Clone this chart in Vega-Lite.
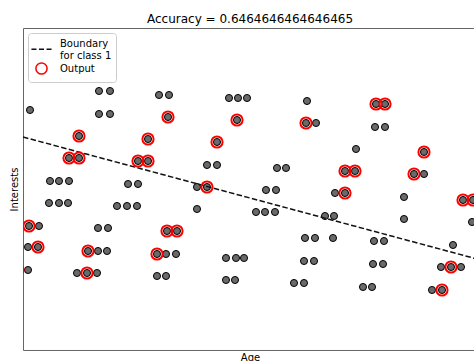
{
  "$schema": "https://vega.github.io/schema/vega-lite/v6.json",
  "width": 454,
  "height": 322,
  "autosize": {"type": "none"},
  "padding": {"left": 23, "top": 28, "right": 0, "bottom": 11},
  "background": "white",
  "title": {"text": "Accuracy = 0.6464646464646465", "font": "DejaVu Sans", "fontSize": 12, "fontWeight": "normal", "color": "black", "offset": 2, "anchor": "middle"},
  "config": {
    "view": {"stroke": "#666", "strokeWidth": 1},
    "font": "DejaVu Sans",
    "axis": {"grid": false, "labels": false, "ticks": false, "domain": false, "titleFont": "DejaVu Sans", "titleFontSize": 10, "titleFontWeight": "normal", "titleColor": "black"},
    "legend": {
      "orient": "top-left",
      "offset": 5,
      "padding": 4,
      "strokeColor": "#cccccc",
      "fillColor": "white",
      "cornerRadius": 3,
      "labelFont": "DejaVu Sans",
      "labelFontSize": 10,
      "labelColor": "black",
      "labelOffset": 12,
      "symbolOffset": 3,
      "symbolSize": 125,
      "rowPadding": -2
    }
  },
  "datasets": {
    "pts": [
      {"x":76,"y":259,"out":false},{"x":87,"y":259,"out":false},{"x":136,"y":255,"out":false},{"x":146,"y":255,"out":false},
      {"x":206,"y":252,"out":false},{"x":215,"y":252,"out":false},{"x":224,"y":252,"out":false},{"x":284,"y":249,"out":false},
      {"x":353,"y":246,"out":true},{"x":362,"y":246,"out":true},{"x":7,"y":240,"out":false},{"x":76,"y":236,"out":false},
      {"x":87,"y":236,"out":false},{"x":145,"y":233,"out":true},{"x":214,"y":230,"out":true},{"x":283,"y":227,"out":true},
      {"x":293,"y":227,"out":false},{"x":352,"y":223,"out":false},{"x":362,"y":223,"out":false},{"x":56,"y":214,"out":true},
      {"x":125,"y":211,"out":true},{"x":194,"y":208,"out":true},{"x":333,"y":201,"out":false},{"x":401,"y":198,"out":true},
      {"x":46,"y":192,"out":true},{"x":56,"y":192,"out":true},{"x":115,"y":189,"out":true},{"x":125,"y":189,"out":true},
      {"x":184,"y":185,"out":false},{"x":194,"y":185,"out":false},{"x":254,"y":182,"out":false},{"x":263,"y":182,"out":false},
      {"x":322,"y":179,"out":true},{"x":332,"y":179,"out":true},{"x":391,"y":176,"out":true},{"x":401,"y":176,"out":false},
      {"x":27,"y":169,"out":false},{"x":36,"y":169,"out":false},{"x":46,"y":169,"out":false},{"x":105,"y":166,"out":false},
      {"x":115,"y":166,"out":false},{"x":174,"y":163,"out":false},{"x":184,"y":163,"out":true},{"x":243,"y":160,"out":false},
      {"x":253,"y":160,"out":false},{"x":312,"y":157,"out":false},{"x":322,"y":157,"out":true},{"x":381,"y":153,"out":false},
      {"x":440,"y":150,"out":true},{"x":450,"y":150,"out":true},{"x":26,"y":147,"out":false},{"x":36,"y":147,"out":false},
      {"x":45,"y":147,"out":false},{"x":94,"y":144,"out":false},{"x":104,"y":144,"out":false},{"x":114,"y":144,"out":false},
      {"x":174,"y":141,"out":false},{"x":233,"y":138,"out":false},{"x":242,"y":138,"out":false},{"x":252,"y":138,"out":false},
      {"x":302,"y":134,"out":false},{"x":311,"y":134,"out":false},{"x":381,"y":131,"out":false},{"x":449,"y":128,"out":false},
      {"x":6,"y":124,"out":true},{"x":16,"y":124,"out":false},{"x":75,"y":122,"out":false},{"x":85,"y":122,"out":false},
      {"x":144,"y":119,"out":true},{"x":154,"y":119,"out":true},{"x":282,"y":112,"out":false},{"x":292,"y":112,"out":false},
      {"x":310,"y":112,"out":false},{"x":351,"y":109,"out":false},{"x":361,"y":109,"out":false},{"x":430,"y":105,"out":false},
      {"x":5,"y":103,"out":false},{"x":15,"y":103,"out":true},{"x":65,"y":99,"out":true},{"x":75,"y":99,"out":false},
      {"x":84,"y":99,"out":false},{"x":134,"y":96,"out":true},{"x":143,"y":96,"out":false},{"x":153,"y":96,"out":false},
      {"x":203,"y":92,"out":false},{"x":213,"y":92,"out":false},{"x":221,"y":92,"out":false},{"x":281,"y":89,"out":false},
      {"x":291,"y":89,"out":false},{"x":350,"y":86,"out":false},{"x":360,"y":86,"out":false},{"x":418,"y":83,"out":false},
      {"x":428,"y":83,"out":true},{"x":438,"y":83,"out":false},{"x":5,"y":80,"out":false},{"x":-5,"y":80,"out":true},
      {"x":54,"y":77,"out":false},{"x":64,"y":77,"out":true},{"x":74,"y":77,"out":false},{"x":134,"y":74,"out":false},
      {"x":143,"y":74,"out":false},{"x":203,"y":70,"out":false},{"x":212,"y":70,"out":false},{"x":271,"y":67,"out":false},
      {"x":281,"y":67,"out":false},{"x":340,"y":63,"out":false},{"x":349,"y":63,"out":false},{"x":409,"y":60,"out":false},
      {"x":419,"y":60,"out":true}
    ],
    "boundary": [{"x": 0, "y": 213}, {"x": 454, "y": 91}]
  },
  "layer": [
    {
      "data": {"name": "pts"},
      "mark": {"type": "circle", "fill": "#6a6a6a", "stroke": "black", "strokeWidth": 1, "size": 50, "opacity": 1, "clip": true},
      "encoding": {
        "x": {"field": "x", "type": "quantitative", "scale": {"domain": [0, 454], "nice": false, "zero": false}, "axis": {"title": "Age", "titlePadding": 2}},
        "y": {"field": "y", "type": "quantitative", "scale": {"domain": [0, 322], "nice": false, "zero": false}, "axis": {"title": "Interests", "titlePadding": 4}}
      }
    },
    {
      "data": {"name": "boundary"},
      "mark": {"type": "line", "stroke": "#111", "strokeWidth": 1.5, "strokeDash": [5.5, 2.4], "clip": true},
      "encoding": {
        "x": {"field": "x", "type": "quantitative"},
        "y": {"field": "y", "type": "quantitative"}
      }
    },
    {
      "data": {"name": "pts"},
      "transform": [{"filter": "datum.out"}],
      "mark": {"type": "point", "filled": false, "strokeWidth": 2, "size": 125, "opacity": 1, "clip": true},
      "encoding": {
        "x": {"field": "x", "type": "quantitative"},
        "y": {"field": "y", "type": "quantitative"},
        "shape": {
          "datum": "Output",
          "scale": {"domain": ["Boundary", "Output"], "range": ["M-1.8,1.05H-0.9M-0.45,1.05H0.45M0.9,1.05H1.8", "circle"]},
          "legend": {"title": null}
        },
        "stroke": {
          "datum": "Output",
          "scale": {"domain": ["Boundary", "Output"], "range": ["#111", "red"]},
          "legend": {
            "title": null,
            "labelExpr": "datum.value === 'Boundary' ? ['Boundary', 'for class 1'] : datum.label"
          }
        }
      }
    }
  ]
}
